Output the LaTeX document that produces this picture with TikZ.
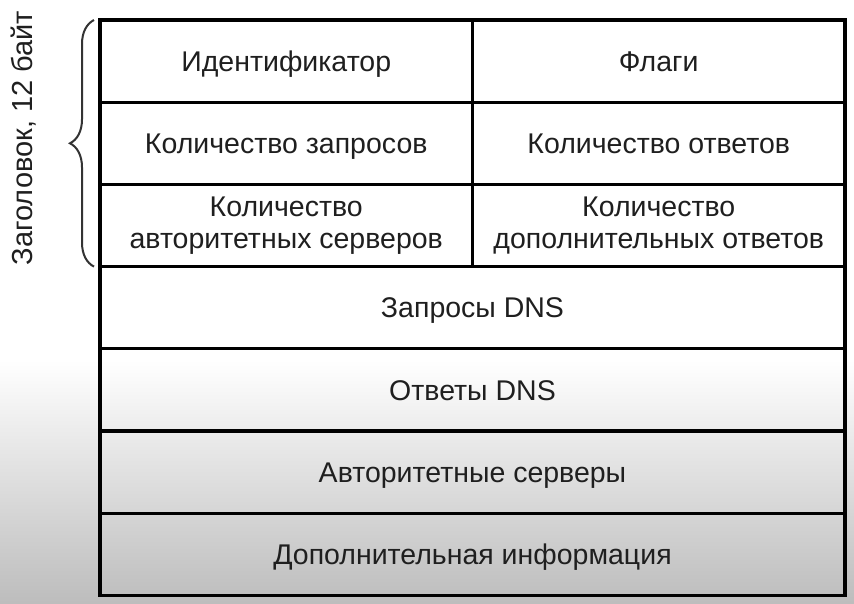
\documentclass[tikz,border=0pt]{standalone}
\usepackage{fontspec}
\setmainfont{Liberation Sans}
\usetikzlibrary{positioning,decorations.pathreplacing}

\begin{document}
\begin{tikzpicture}[
  x=1pt, y=-1pt,
  node distance=0pt,
  cell/.style={rectangle, draw, line width=3.2pt, align=center, outer sep=0pt,
               inner sep=0pt, minimum height=82.2pt, text=black!88,
               font=\fontsize{28.5}{31.5}\selectfont},
  oneline/.style={text height=20.5pt, text depth=0pt},
  half/.style={cell, minimum width=372.5pt},
  full/.style={cell, oneline, minimum width=745pt},
  hdrbrace/.style={decorate, decoration={brace, amplitude=24pt},
                   line width=2pt, draw=black!80}]
  % background of the slide
  \fill[white] (0,0) rectangle (854,360);
  \shade[top color=white, bottom color=black!26] (0,360) rectangle (854,603);
  \useasboundingbox (0,0) rectangle (854,603);
  % header, 12 bytes
  \node[half, oneline, anchor=north west] (ident) at (100,20) {Идентификатор};
  \node[half, oneline, right=of ident] (flags) {Флаги};
  \node[half, oneline, below=of ident] (qcount) {Количество запросов};
  \node[half, oneline, right=of qcount] (acount) {Количество ответов};
  \node[half, below=of qcount] (nscount) {Количество\\авторитетных серверов};
  \node[half, right=of nscount] (arcount) {Количество\\дополнительных ответов};
  % sections
  \node[full, below=0pt of nscount.south west, anchor=north west] (quest) {Запросы DNS};
  \node[full, below=of quest] (answ) {Ответы DNS};
  \node[full, below=of answ] (auth) {Авторитетные серверы};
  \node[full, below=of auth] (addl) {Дополнительная информация};
  % brace and its label
  \draw[hdrbrace] ([xshift=-6pt]nscount.south west) -- ([xshift=-6pt]ident.north west);
  \node[rotate=90, font=\fontsize{29}{32}\selectfont, text=black!88] (hdrlabel) at (24,138)
    {Заголовок, 12 байт};
\end{tikzpicture}
\end{document}
